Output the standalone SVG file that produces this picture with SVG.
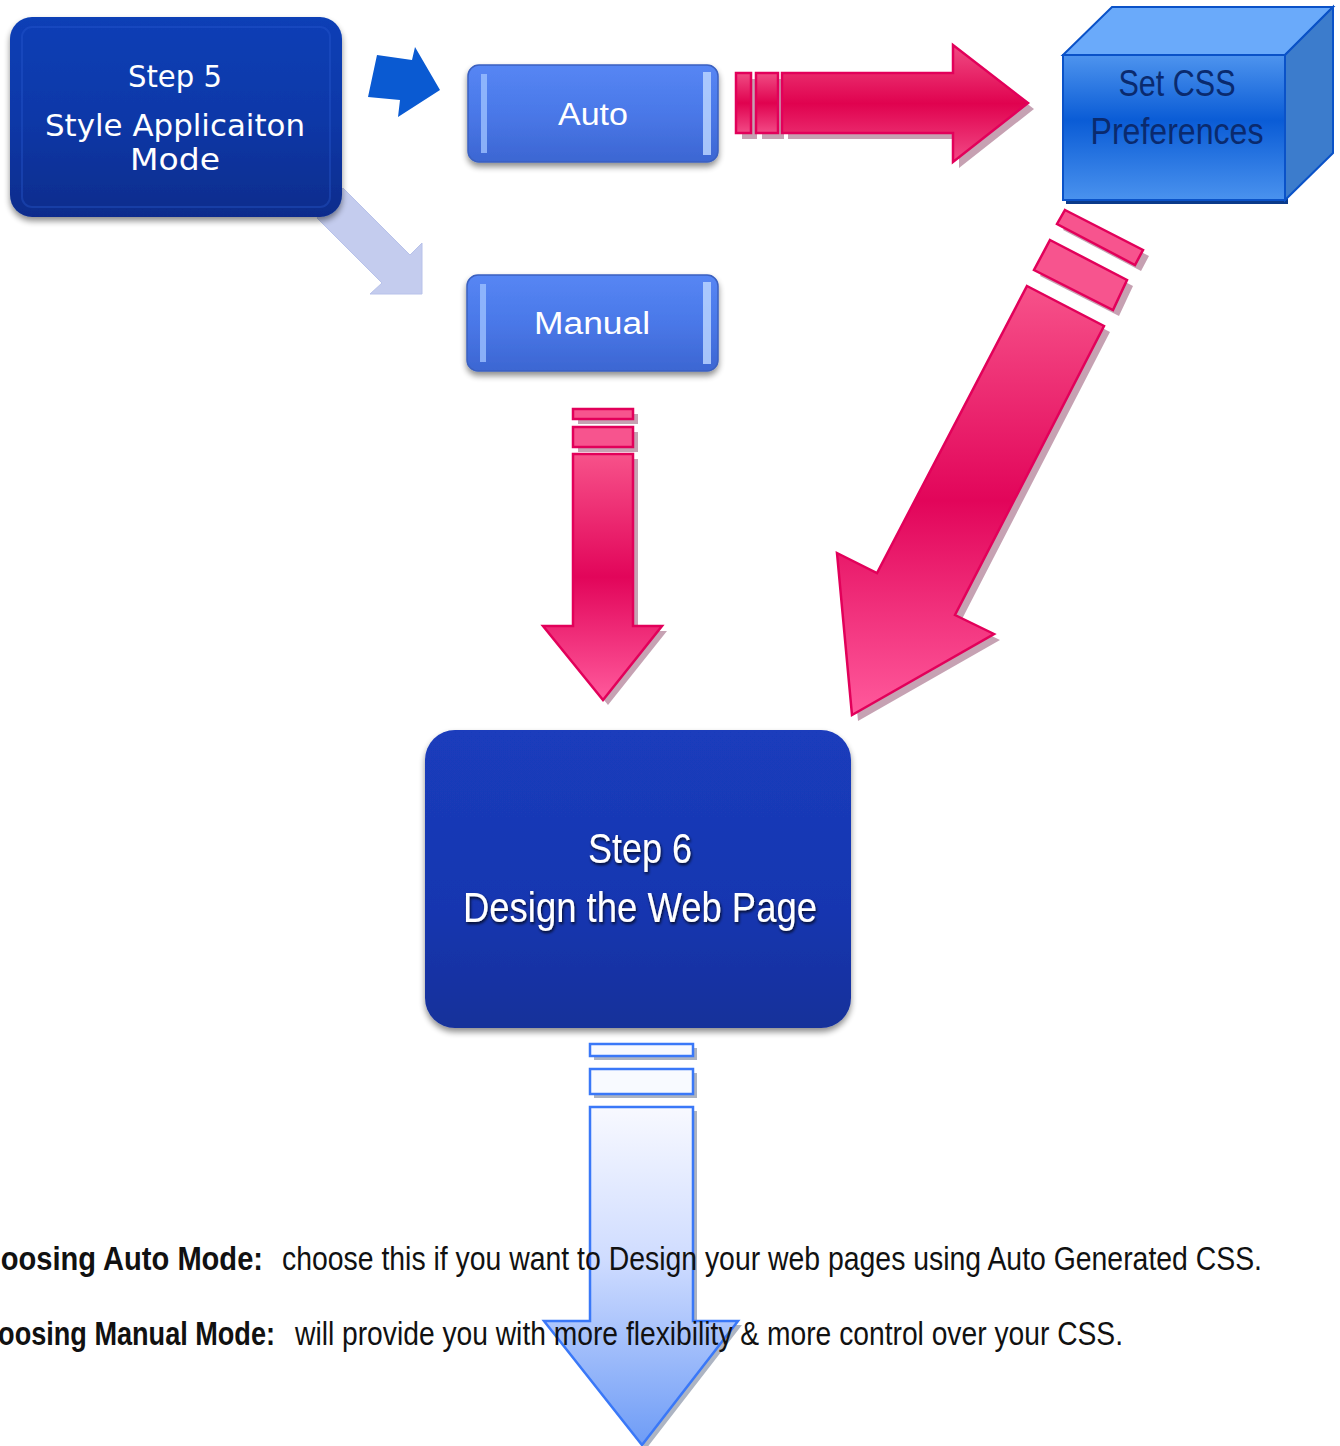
<svg xmlns="http://www.w3.org/2000/svg" width="1340" height="1446" viewBox="0 0 1340 1446">
<style>
.pk{stroke:#e2005a;stroke-width:2.5;fill:url(#pinkV)}
.pks{stroke:#e2005a;stroke-width:2.5;fill:#f7548e}
.pkh{stroke:#e2005a;stroke-width:2.5;fill:url(#pinkH)}
.psh{fill:#a8708a;opacity:.65}
.bl{stroke:#3a78f8;stroke-width:2.5;fill:url(#blueV)}
.bls{stroke:#3a78f8;stroke-width:2.5;fill:#f8faff}
.bsh{fill:#8a94a8;opacity:.7}
.w1{font-family:"DejaVu Sans","Verdana",sans-serif;fill:#fff;text-anchor:middle}
.nar{font-family:"Liberation Sans Narrow","Liberation Sans",Arial,sans-serif}
.note{font-family:"Liberation Sans Narrow","Liberation Sans",Arial,sans-serif;font-size:34px;fill:#111}
</style>
<defs>
<linearGradient id="pinkV" x1="0" y1="0" x2="0" y2="1">
<stop offset="0" stop-color="#f7528a"/><stop offset="0.5" stop-color="#e2055a"/><stop offset="1" stop-color="#ff5a9c"/>
</linearGradient>
<linearGradient id="pinkH" x1="0" y1="0" x2="0" y2="1">
<stop offset="0" stop-color="#f04c84"/><stop offset="0.5" stop-color="#e0024f"/><stop offset="1" stop-color="#f24a86"/>
</linearGradient>
<linearGradient id="blueV" x1="0" y1="0" x2="0" y2="1">
<stop offset="0" stop-color="#f8f9ff"/><stop offset="0.45" stop-color="#cfdcff"/><stop offset="1" stop-color="#6e9cf6"/>
</linearGradient>
<linearGradient id="dark5" x1="0" y1="0" x2="0" y2="1">
<stop offset="0" stop-color="#0a3fb6"/><stop offset="0.5" stop-color="#0838a8"/><stop offset="1" stop-color="#0a2c8c"/>
</linearGradient>
<linearGradient id="dark6" x1="0" y1="0" x2="0" y2="1">
<stop offset="0" stop-color="#1a3cbc"/><stop offset="0.6" stop-color="#1836b0"/><stop offset="1" stop-color="#16309a"/>
</linearGradient>
<linearGradient id="mid" x1="0" y1="0" x2="0" y2="1">
<stop offset="0" stop-color="#5686f4"/><stop offset="0.5" stop-color="#4a78e8"/><stop offset="1" stop-color="#3c66d2"/>
</linearGradient>
<linearGradient id="cubeF" x1="0" y1="0" x2="0" y2="1">
<stop offset="0" stop-color="#4e94ee"/><stop offset="0.45" stop-color="#0a5cd6"/><stop offset="1" stop-color="#4a92ee"/>
</linearGradient>
<filter id="sh" x="-10%" y="-10%" width="120%" height="130%">
<feGaussianBlur in="SourceAlpha" stdDeviation="3"/><feOffset dx="0" dy="4" result="b"/>
<feComponentTransfer><feFuncA type="linear" slope="0.45"/></feComponentTransfer>
<feMerge><feMergeNode/><feMergeNode in="SourceGraphic"/></feMerge>
</filter>
<filter id="tsh" x="-10%" y="-20%" width="120%" height="150%">
<feGaussianBlur in="SourceAlpha" stdDeviation="1.5"/><feOffset dx="1" dy="2"/>
<feComponentTransfer><feFuncA type="linear" slope="0.8"/></feComponentTransfer>
<feMerge><feMergeNode/><feMergeNode in="SourceGraphic"/></feMerge>
</filter>
</defs>
<rect width="1340" height="1446" fill="#fff"/>

<g id="connectors">
<polygon points="377,55 412,60 415,47 440,90 398,117 400,100 368,97" fill="#0a5ad2"/>
<polygon points="343,188 410,255 422,243 422,294 370,294 382,283 317,218" fill="#c4ccee" stroke="#b8c2ea" stroke-width="1"/>
<g transform="translate(6,6)" class="psh">
<rect x="736" y="73" width="15" height="60"/><rect x="756" y="73" width="22" height="60"/>
<polygon points="782,73 953,73 953,45 1028,103 953,162 953,133 782,133"/>
</g>
<rect class="pkh" x="736" y="73" width="15" height="60"/>
<rect class="pkh" x="756" y="73" width="22" height="60"/>
<polygon class="pkh" points="782,73 953,73 953,45 1028,103 953,162 953,133 782,133"/>
<g transform="translate(5,5)" class="psh">
<rect x="573" y="409" width="60" height="10"/><rect x="573" y="427" width="60" height="20"/>
<polygon points="573,454 633,454 633,626 662,626 603,700 543,626 573,626"/>
</g>
<rect class="pks" x="573" y="409" width="60" height="10"/>
<rect class="pks" x="573" y="427" width="60" height="20"/>
<polygon class="pk" points="573,454 633,454 633,626 662,626 603,700 543,626 573,626"/>
<g transform="translate(6,6)" class="psh">
<polygon points="1065,210 1143,250 1135,265 1057,224"/>
<polygon points="1050,240 1127,280 1113,310 1034,270"/>
<polygon points="1027,286 1104,326 955,615 994,634 852,715 837,553 877,573"/>
</g>
<polygon class="pks" points="1065,210 1143,250 1135,265 1057,224"/>
<polygon class="pks" points="1050,240 1127,280 1113,310 1034,270"/>
<polygon class="pk" points="1027,286 1104,326 955,615 994,634 852,715 837,553 877,573"/>
<g transform="translate(4,4)" class="bsh">
<rect x="590" y="1044" width="103" height="12"/><rect x="590" y="1069" width="103" height="25"/>
<polygon points="590,1107 693,1107 693,1321 738,1321 642,1445 544,1321 590,1321"/>
</g>
<rect class="bls" x="590" y="1044" width="103" height="12"/>
<rect class="bls" x="590" y="1069" width="103" height="25"/>
<polygon class="bl" points="590,1107 693,1107 693,1321 738,1321 642,1445 544,1321 590,1321"/>
</g>

<g id="step5">
<rect x="10" y="17" width="332" height="200" rx="22" fill="url(#dark5)" filter="url(#sh)"/>
<rect x="22" y="27" width="308" height="180" rx="10" fill="none" stroke="#2a5cd0" stroke-width="2" opacity="0.35"/>
<text class="w1" x="175" y="87" font-size="30" textLength="94" lengthAdjust="spacingAndGlyphs">Step 5</text>
<text class="w1" x="175" y="136" font-size="30" textLength="260" lengthAdjust="spacingAndGlyphs">Style Applicaiton</text>
<text class="w1" x="175" y="170" font-size="30" textLength="90" lengthAdjust="spacingAndGlyphs">Mode</text>
</g>

<g id="auto">
<rect x="468" y="65" width="250" height="97" rx="11" fill="url(#mid)" stroke="#3a60c0" stroke-width="1.5" filter="url(#sh)"/>
<rect x="481" y="74" width="6" height="79" fill="#9cc0ff" opacity="0.8"/>
<rect x="703" y="72" width="8" height="83" fill="#b8d4ff" opacity="0.85"/>
<text class="w1" x="593" y="125" font-size="31" style="font-family:'Liberation Sans',Arial,sans-serif" textLength="70" lengthAdjust="spacingAndGlyphs">Auto</text>
</g>

<g id="manual">
<rect x="467" y="275" width="251" height="96" rx="11" fill="url(#mid)" stroke="#3a60c0" stroke-width="1.5" filter="url(#sh)"/>
<rect x="480" y="284" width="6" height="78" fill="#9cc0ff" opacity="0.8"/>
<rect x="703" y="282" width="8" height="82" fill="#b8d4ff" opacity="0.85"/>
<text class="w1" x="592" y="334" font-size="31" style="font-family:'Liberation Sans',Arial,sans-serif" textLength="116" lengthAdjust="spacingAndGlyphs">Manual</text>
</g>

<g id="setcss">
<polygon points="1066,59 1288,59 1288,204 1066,204" fill="#0a3a8a"/>
<polygon points="1063,55 1112,7 1333,7 1285,55" fill="#6aaafa" stroke="#0a52c8" stroke-width="2"/>
<polygon points="1285,55 1333,7 1333,153 1285,200" fill="#3c7ccc" stroke="#0a52c8" stroke-width="2"/>
<rect x="1063" y="55" width="222" height="145" fill="url(#cubeF)" stroke="#0a52c8" stroke-width="2"/>
<text class="nar" x="1177" y="96" font-size="36" fill="#0a2a6e" text-anchor="middle" textLength="117" lengthAdjust="spacingAndGlyphs">Set CSS</text>
<text class="nar" x="1177" y="144" font-size="36" fill="#0a2a6e" text-anchor="middle" textLength="173" lengthAdjust="spacingAndGlyphs">Preferences</text>
</g>

<g id="step6">
<rect x="425" y="730" width="426" height="298" rx="30" fill="url(#dark6)" filter="url(#sh)"/>
<text class="nar" x="640" y="863" font-size="43" fill="#fff" text-anchor="middle" filter="url(#tsh)" textLength="104" lengthAdjust="spacingAndGlyphs">Step 6</text>
<text class="nar" x="640" y="922" font-size="43" fill="#fff" text-anchor="middle" filter="url(#tsh)" textLength="354" lengthAdjust="spacingAndGlyphs">Design the Web Page</text>
</g>

<g id="notes">
<text class="note" x="-38" y="1270" font-weight="bold" textLength="301" lengthAdjust="spacingAndGlyphs">Choosing Auto Mode:</text>
<text class="note" x="282" y="1270" textLength="980" lengthAdjust="spacingAndGlyphs">choose this if you want to Design your web pages using Auto Generated CSS.</text>
<text class="note" x="-38" y="1345" font-weight="bold" textLength="313" lengthAdjust="spacingAndGlyphs">Choosing Manual Mode:</text>
<text class="note" x="295" y="1345" textLength="828" lengthAdjust="spacingAndGlyphs">will provide you with more flexibility &amp; more control over your CSS.</text>
</g>
</svg>
